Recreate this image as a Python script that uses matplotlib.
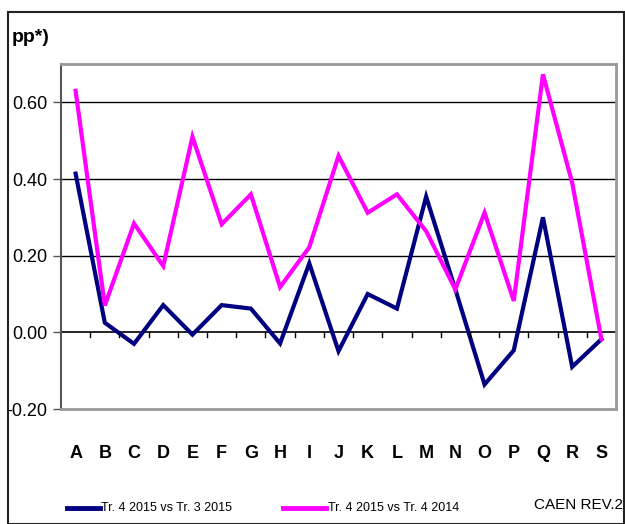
import matplotlib
matplotlib.use("Agg")
import matplotlib.pyplot as plt
from matplotlib.patches import Rectangle
from matplotlib.lines import Line2D
from matplotlib import font_manager

categories = list("ABCDEFGHIJKLMNOPQRS")
series_q = [0.414, 0.025, -0.030, 0.071, -0.006, 0.071, 0.062, -0.029, 0.180,
            -0.049, 0.100, 0.062, 0.354, 0.112, -0.136, -0.047, 0.300, -0.090, -0.018]
series_y = [0.630, 0.070, 0.284, 0.173, 0.510, 0.282, 0.360, 0.118, 0.222,
            0.460, 0.312, 0.360, 0.264, 0.112, 0.312, 0.082, 0.673, 0.390, -0.018]
yticks = [-0.20, 0.00, 0.20, 0.40, 0.60]
label_q = "Tr. 4 2015 vs Tr. 3 2015"
label_y = "Tr. 4 2015 vs Tr. 4 2014"

names = {f.name for f in font_manager.fontManager.ttflist}
narrow = 'Liberation Sans Narrow' if 'Liberation Sans Narrow' in names else 'Liberation Sans'
is_narrow = narrow == 'Liberation Sans Narrow'

W, H = 625, 524
fig = plt.figure(figsize=(W / 100, H / 100), dpi=100)
plt.rcParams['font.family'] = ['Liberation Sans', 'DejaVu Sans']

# outer frame
fig.patches.append(Rectangle((8 / W, 0), (624 - 8) / W, (H - 12) / H,
                             transform=fig.transFigure, fill=False,
                             edgecolor='#222222', linewidth=1.5))

left, right, top, bottom = 61, 616, 64, 409
ax = fig.add_axes([left / W, 1 - bottom / H, (right - left) / W, (bottom - top) / H])

x = list(range(len(categories)))
ax.plot(x, series_q, color='#000080', linewidth=3, solid_joinstyle='miter')
ax.plot(x, series_y, color='#FF00FF', linewidth=3, solid_joinstyle='miter')

ax.set_xlim(-0.5, len(categories) - 0.5)
ax.set_ylim(-0.2, 0.7)
ax.set_yticks(yticks)
ax.set_yticklabels([f"{v:.2f}" for v in yticks], fontsize=14 if is_narrow else 13,
                   family=[narrow, 'DejaVu Sans'])
for v in yticks[2:]:
    ax.axhline(v, color='black', linewidth=1, zorder=0)
ax.axhline(0, color='black', linewidth=1.2, zorder=0)
for b in range(1, len(categories) + 1):
    ax.plot([b - 0.5, b - 0.5], [0, -0.013], color='black', linewidth=1, clip_on=False)

ax.set_xticks(x)
ax.set_xticklabels(categories, fontsize=14 if is_narrow else 13, fontweight='bold',
                   family=[narrow, 'DejaVu Sans'])
ax.tick_params(axis='x', length=0, pad=26)
ax.tick_params(axis='y', length=6, width=1, color='#555555', pad=4)
for s in ax.spines.values():
    s.set_color('#999999')
    s.set_linewidth(2)
ax.spines['left'].set_color('#555555')
ax.spines['left'].set_linewidth(1.5)

fig.text(12 / W, 1 - 38 / H, "pp*)", fontsize=14, fontweight='bold', va='center', ha='left')

# legend
ly = 1 - 508 / H
fs_leg = 12 if is_narrow else 9
fig.lines.append(Line2D([67 / W, 100 / W], [ly, ly], transform=fig.transFigure,
                        color='#000080', linewidth=3.5))
fig.text(101 / W, ly, label_q, fontsize=fs_leg, va='center', ha='left',
         family=[narrow, 'DejaVu Sans'])
fig.lines.append(Line2D([283 / W, 326 / W], [ly, ly], transform=fig.transFigure,
                        color='#FF00FF', linewidth=3.5))
fig.text(328 / W, ly, label_y, fontsize=fs_leg, va='center', ha='left',
         family=[narrow, 'DejaVu Sans'])
fig.text(534 / W, ly + 0.006, "CAEN REV.2", fontsize=14 if is_narrow else 11, va='center',
         ha='left', family=[narrow, 'DejaVu Sans'])

fig.savefig("out.png", dpi=100)
